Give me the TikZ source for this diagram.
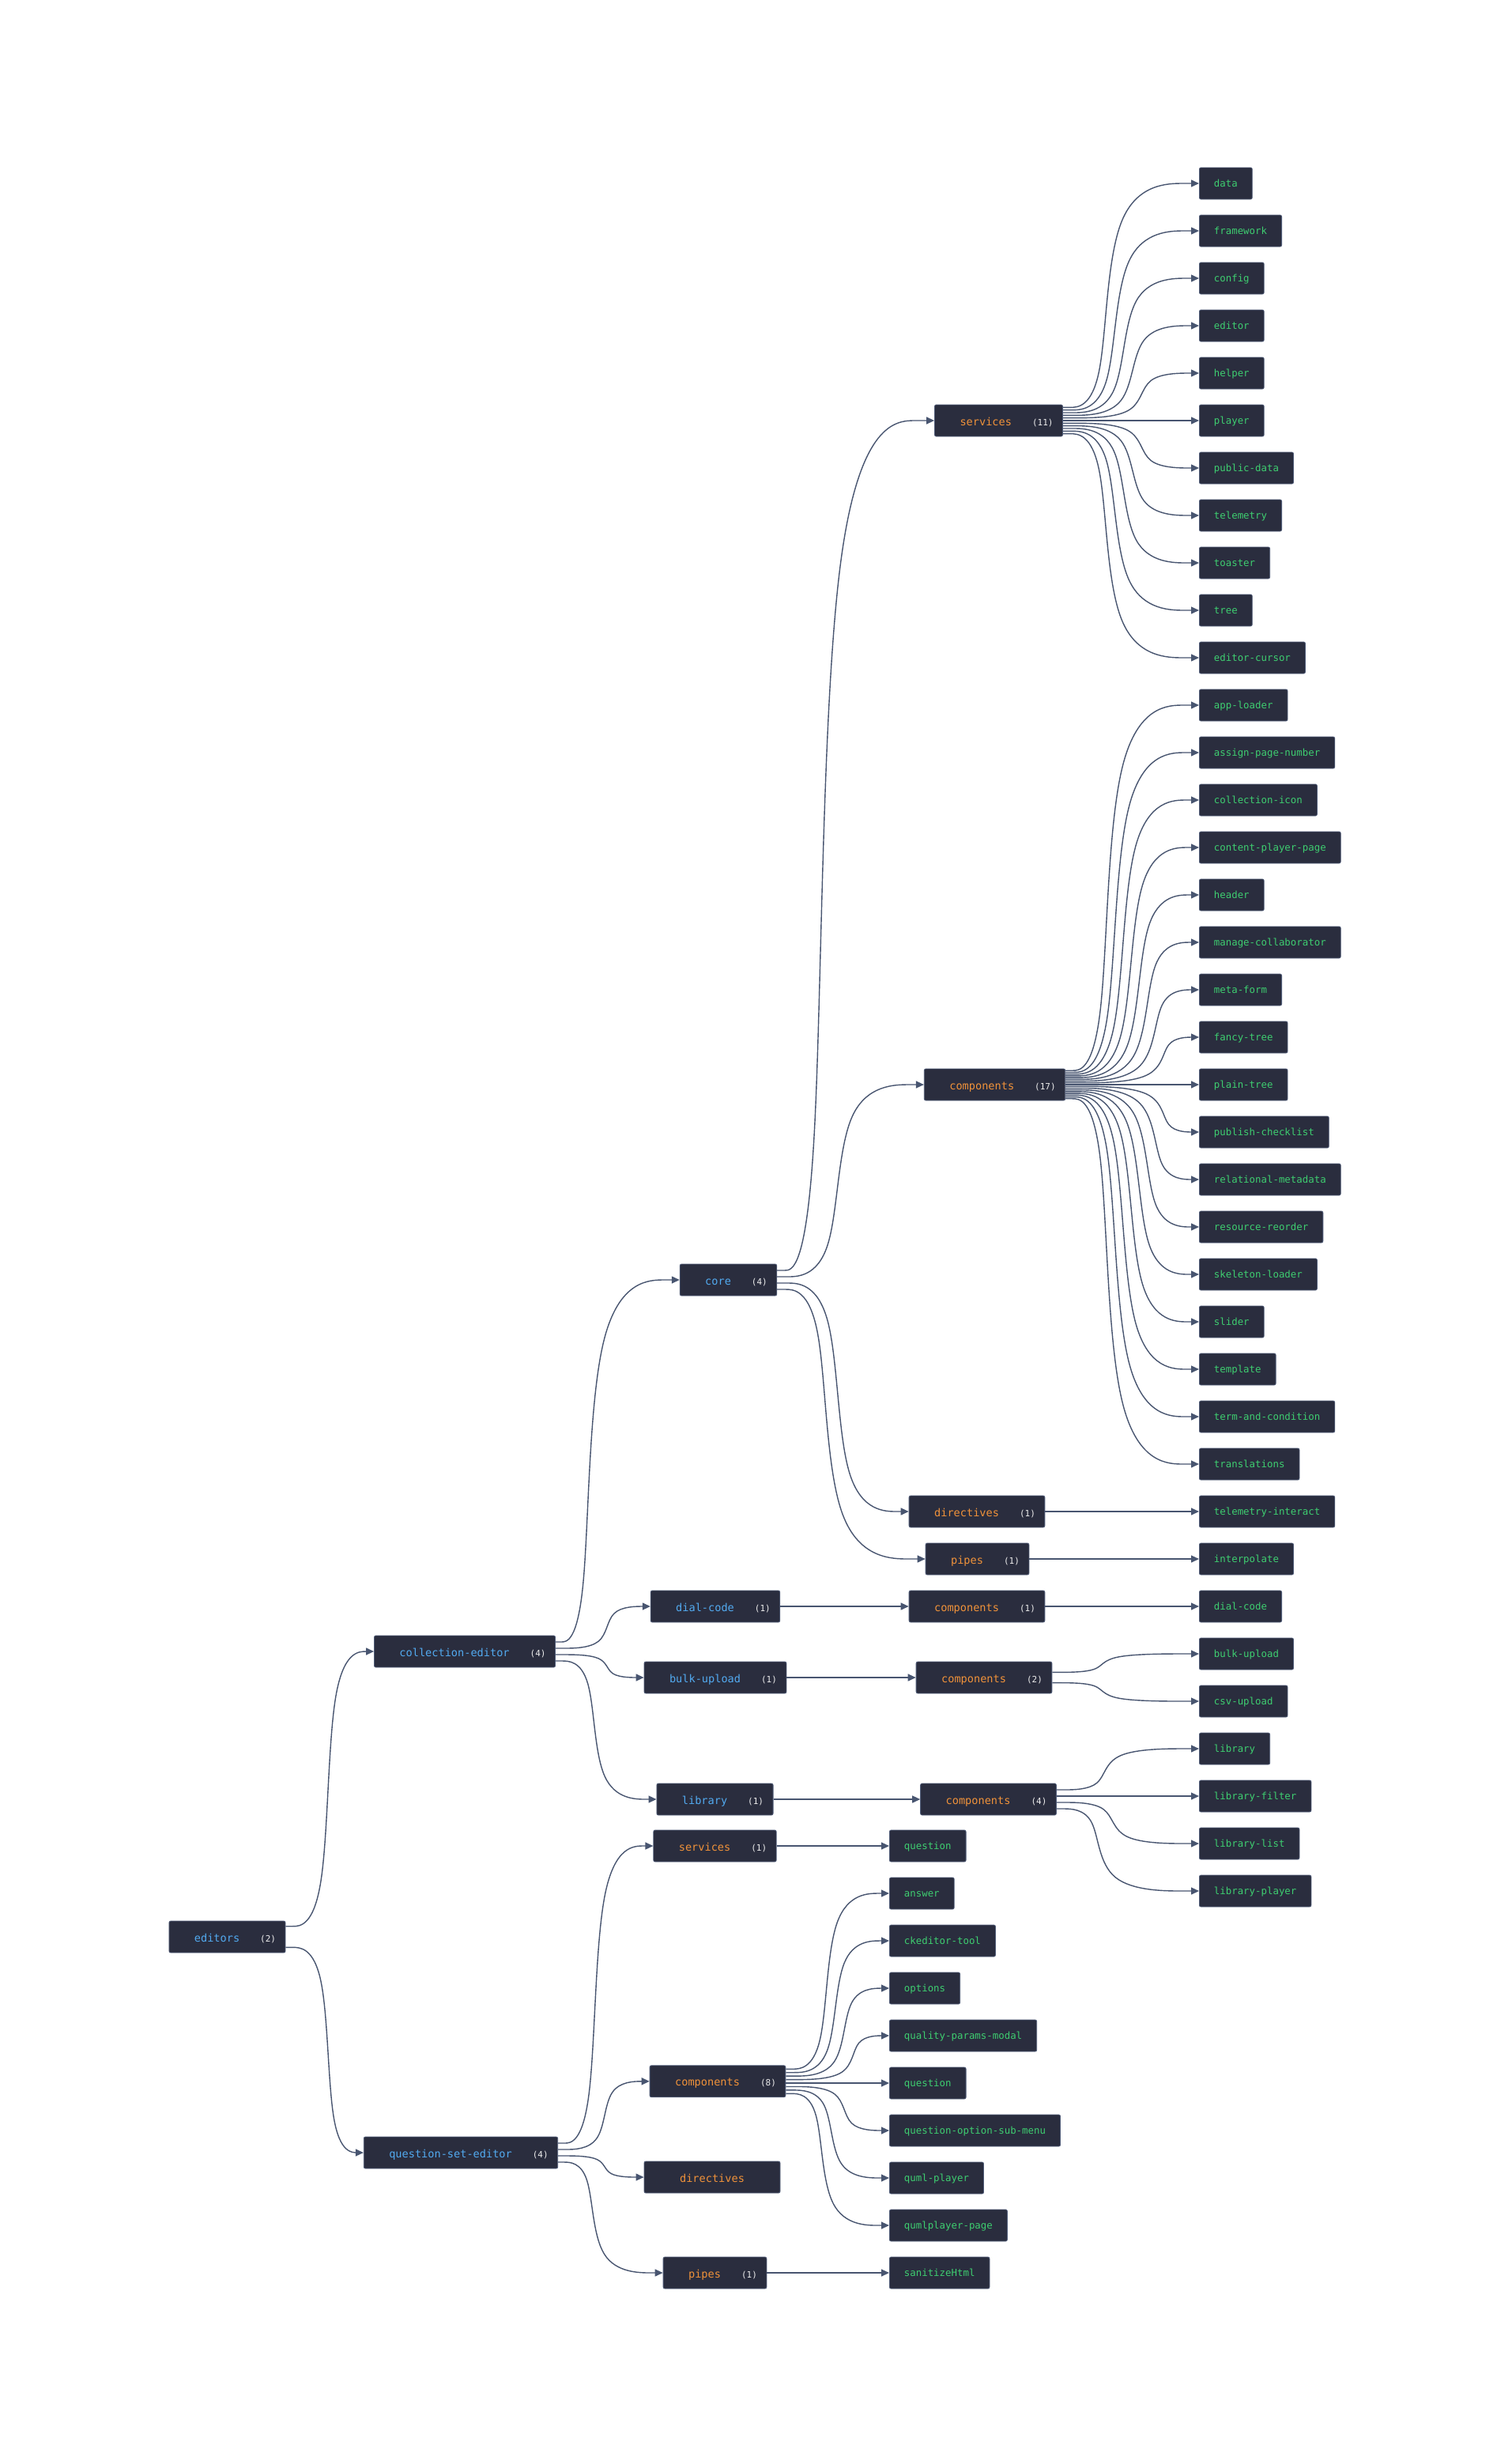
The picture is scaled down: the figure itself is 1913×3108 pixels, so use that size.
\documentclass[tikz,border=0pt]{standalone}
\usepackage{fontspec}
\setmonofont{DejaVu Sans Mono}
\definecolor{boxfill}{RGB}{42,45,62}
\definecolor{boxline}{RGB}{80,92,120}
\definecolor{edgeslate}{RGB}{72,85,112}
\definecolor{modblue}{RGB}{82,170,240}
\definecolor{kindorange}{RGB}{240,146,58}
\definecolor{leafgreen}{RGB}{62,206,112}
\definecolor{countwhite}{RGB}{236,236,236}
\usetikzlibrary{calc, arrows.meta}

\newcommand{\grplabel}[3]{\hspace{20pt}\textcolor{#1}{#2}\hspace{26pt}{\fontsize{11}{13}\selectfont\textcolor{countwhite}{#3}}}
\newcommand{\fanedge}[4]{%
  \draw[arrow] let \p1=($(#1.east)+(0,{#2})$), \p2=(#4.west), \p3=({#3},0) in
    (\p1) -- ({\x1+(\x3-\x1)/6},\y1)
    .. controls ({\x1+(\x3-\x1)/3},\y1) and ({\x3-(\x3-\x1)/3},\y1) .. ({\x3-(\x3-\x1)/6},{\y1+(\y2-\y1)/6})
    .. controls (\x3,{\y1+(\y2-\y1)/3}) and (\x3,{\y2-(\y2-\y1)/3}) .. ({\x3+(\x2-\x3)/6},{\y2-(\y2-\y1)/6})
    .. controls ({\x3+(\x2-\x3)/3},\y2) and ({\x2-(\x2-\x3)/3},\y2) .. ({\x2-(\x2-\x3)/6},\y2)
    -- (\p2);}

\begin{document}
\begin{tikzpicture}[x=1pt, y=-1pt,
    grp/.style={fill=boxfill, draw=boxline, line width=0.8pt, rounded corners=2pt,
      minimum height=40pt, inner xsep=12pt, inner ysep=0pt,
      font=\fontsize{13.6}{16}\selectfont\ttfamily, text height=12pt, text depth=0pt},
    leaf/.style={fill=boxfill, draw=boxline, line width=0.8pt, rounded corners=2pt,
      minimum height=40pt, inner xsep=18.5pt, inner ysep=0pt, anchor=west, text=leafgreen,
      font=\fontsize{12.4}{14}\selectfont\ttfamily, text height=9.6pt, text depth=0pt},
    arrow/.style={-{Triangle[length=10pt, width=9pt]}, edgeslate, line width=1.4pt},
  ]
    \useasboundingbox (0,0) rectangle (1913,3108);
    \node[grp] (editors) at (287.5,2450) {\grplabel{modblue}{editors}{(2)}};
    \node[grp] (colled) at (588,2089) {\grplabel{modblue}{collection-editor}{(4)}};
    \node[grp] (qse) at (583,2723) {\grplabel{modblue}{question-set-editor}{(4)}};
    \node[grp] (core) at (921.5,1619) {\grplabel{modblue}{core}{(4)}};
    \node[grp] (dialcode) at (905,2032) {\grplabel{modblue}{dial-code}{(1)}};
    \node[grp] (bulkup) at (905,2122) {\grplabel{modblue}{bulk-upload}{(1)}};
    \node[grp] (library) at (904.5,2276) {\grplabel{modblue}{library}{(1)}};
    \node[grp] (qsvc) at (904.5,2335) {\grplabel{kindorange}{services}{(1)}};
    \node[grp] (comps8) at (908,2632.78) {\grplabel{kindorange}{components}{(8)}};
    \node[grp, minimum width=172pt] (qdirectives) at (901,2754) {\textcolor{kindorange}{directives}};
    \node[grp] (qpipes) at (904.5,2875) {\grplabel{kindorange}{pipes}{(1)}};
    \node[grp] (services) at (1263.5,532) {\grplabel{kindorange}{services}{(11)}};
    \node[grp] (comps17) at (1258.5,1372) {\grplabel{kindorange}{components}{(17)}};
    \node[grp] (directives) at (1236,1912) {\grplabel{kindorange}{directives}{(1)}};
    \node[grp] (pipes) at (1236.5,1972) {\grplabel{kindorange}{pipes}{(1)}};
    \node[grp] (comps1) at (1236,2032) {\grplabel{kindorange}{components}{(1)}};
    \node[grp] (comps2) at (1245,2122) {\grplabel{kindorange}{components}{(2)}};
    \node[grp] (comps4) at (1250.5,2276) {\grplabel{kindorange}{components}{(4)}};

    \node[leaf] (data) at (1517,232) {data};
    \node[leaf] (framework) at (1517,292) {framework};
    \node[leaf] (config) at (1517,352) {config};
    \node[leaf] (editor) at (1517,412) {editor};
    \node[leaf] (helper) at (1517,472) {helper};
    \node[leaf] (player) at (1517,532) {player};
    \node[leaf] (pubdata) at (1517,592) {public-data};
    \node[leaf] (telemetry) at (1517,652) {telemetry};
    \node[leaf] (toaster) at (1517,712) {toaster};
    \node[leaf] (tree) at (1517,772) {tree};
    \node[leaf] (cursor) at (1517,832) {editor-cursor};
    \node[leaf] (apploader) at (1517,892) {app-loader};
    \node[leaf] (pagenum) at (1517,952) {assign-page-number};
    \node[leaf] (colicon) at (1517,1012) {collection-icon};
    \node[leaf] (cpp) at (1517,1072) {content-player-page};
    \node[leaf] (header) at (1517,1132) {header};
    \node[leaf] (collab) at (1517,1192) {manage-collaborator};
    \node[leaf] (metaform) at (1517,1252) {meta-form};
    \node[leaf] (fancytree) at (1517,1312) {fancy-tree};
    \node[leaf] (plaintree) at (1517,1372) {plain-tree};
    \node[leaf] (checklist) at (1517,1432) {publish-checklist};
    \node[leaf] (relmeta) at (1517,1492) {relational-metadata};
    \node[leaf] (reorder) at (1517,1552) {resource-reorder};
    \node[leaf] (skeleton) at (1517,1612) {skeleton-loader};
    \node[leaf] (slider) at (1517,1672) {slider};
    \node[leaf] (template) at (1517,1732) {template};
    \node[leaf] (terms) at (1517,1792) {term-and-condition};
    \node[leaf] (translations) at (1517,1852) {translations};
    \node[leaf] (tinteract) at (1517,1912) {telemetry-interact};
    \node[leaf] (interpolate) at (1517,1972) {interpolate};
    \node[leaf] (dcleaf) at (1517,2032) {dial-code};
    \node[leaf] (buleaf) at (1517,2092) {bulk-upload};
    \node[leaf] (csv) at (1517,2152) {csv-upload};
    \node[leaf] (libleaf) at (1517,2212) {library};
    \node[leaf] (libfilter) at (1517,2272) {library-filter};
    \node[leaf] (liblist) at (1517,2332) {library-list};
    \node[leaf] (libplayer) at (1517,2392) {library-player};

    \node[leaf] (qsquestion) at (1125,2335) {question};
    \node[leaf] (answer) at (1125,2395) {answer};
    \node[leaf] (ckeditor) at (1125,2455) {ckeditor-tool};
    \node[leaf] (options) at (1125,2515) {options};
    \node[leaf] (qparams) at (1125,2575) {quality-params-modal};
    \node[leaf] (cquestion) at (1125,2635) {question};
    \node[leaf] (qosm) at (1125,2695) {question-option-sub-menu};
    \node[leaf] (qumlplayer) at (1125,2755) {quml-player};
    \node[leaf] (qumlpage) at (1125,2815) {qumlplayer-page};
    \node[leaf] (sanitize) at (1125,2875) {sanitizeHtml};

    \fanedge{editors}{-13.33}{415}{colled}
    \fanedge{editors}{13.33}{415}{qse}
    \fanedge{colled}{-12}{745}{core}
    \fanedge{colled}{-4}{768}{dialcode}
    \fanedge{colled}{4}{768}{bulkup}
    \fanedge{colled}{12}{752}{library}
    \fanedge{core}{-12}{1040}{services}
    \fanedge{core}{-4}{1060}{comps17}
    \fanedge{core}{4}{1060}{directives}
    \fanedge{core}{12}{1045}{pipes}

    \fanedge{services}{-16.67}{1400}{data}
    \fanedge{services}{-13.33}{1411}{framework}
    \fanedge{services}{-10}{1422}{config}
    \fanedge{services}{-6.67}{1433}{editor}
    \fanedge{services}{-3.33}{1444}{helper}
    \draw[arrow] (services) -- (player);
    \fanedge{services}{3.33}{1444}{pubdata}
    \fanedge{services}{6.67}{1433}{telemetry}
    \fanedge{services}{10}{1422}{toaster}
    \fanedge{services}{13.33}{1411}{tree}
    \fanedge{services}{16.67}{1400}{cursor}

    \fanedge{comps17}{-17.78}{1401}{apploader}
    \fanedge{comps17}{-15.56}{1411}{pagenum}
    \fanedge{comps17}{-13.33}{1421}{colicon}
    \fanedge{comps17}{-11.11}{1431}{cpp}
    \fanedge{comps17}{-8.89}{1441}{header}
    \fanedge{comps17}{-6.67}{1451}{collab}
    \fanedge{comps17}{-4.44}{1461}{metaform}
    \fanedge{comps17}{-2.22}{1471}{fancytree}
    \draw[arrow] (comps17) -- (plaintree);
    \fanedge{comps17}{2.22}{1471}{checklist}
    \fanedge{comps17}{4.44}{1461}{relmeta}
    \fanedge{comps17}{6.67}{1451}{reorder}
    \fanedge{comps17}{8.89}{1441}{skeleton}
    \fanedge{comps17}{11.11}{1431}{slider}
    \fanedge{comps17}{13.33}{1421}{template}
    \fanedge{comps17}{15.56}{1411}{terms}
    \fanedge{comps17}{17.78}{1401}{translations}

    \draw[arrow] (directives) -- (tinteract);
    \draw[arrow] (pipes) -- (interpolate);
    \draw[arrow] (dialcode) -- (comps1);
    \draw[arrow] (comps1) -- (dcleaf);
    \draw[arrow] (bulkup) -- (comps2);
    \fanedge{comps2}{-6.67}{1395}{buleaf}
    \fanedge{comps2}{6.67}{1395}{csv}
    \draw[arrow] (library) -- (comps4);
    \fanedge{comps4}{-12}{1398}{libleaf}
    \fanedge{comps4}{-4}{1400}{libfilter}
    \fanedge{comps4}{4}{1408}{liblist}
    \fanedge{comps4}{12}{1390}{libplayer}

    \fanedge{qse}{-12}{753}{qsvc}
    \fanedge{qse}{-4}{765}{comps8}
    \fanedge{qse}{4}{765}{qdirectives}
    \fanedge{qse}{12}{750}{qpipes}
    \draw[arrow] (qsvc) -- (qsquestion);
    \fanedge{comps8}{-15.56}{1046}{answer}
    \fanedge{comps8}{-11.11}{1057}{ckeditor}
    \fanedge{comps8}{-6.67}{1068}{options}
    \fanedge{comps8}{-2.22}{1079}{qparams}
    \fanedge{comps8}{2.22}{1079}{cquestion}
    \fanedge{comps8}{6.67}{1068}{qosm}
    \fanedge{comps8}{11.11}{1052}{qumlplayer}
    \fanedge{comps8}{15.56}{1040}{qumlpage}
    \draw[arrow] (qpipes) -- (sanitize);
  \end{tikzpicture}
\end{document}
